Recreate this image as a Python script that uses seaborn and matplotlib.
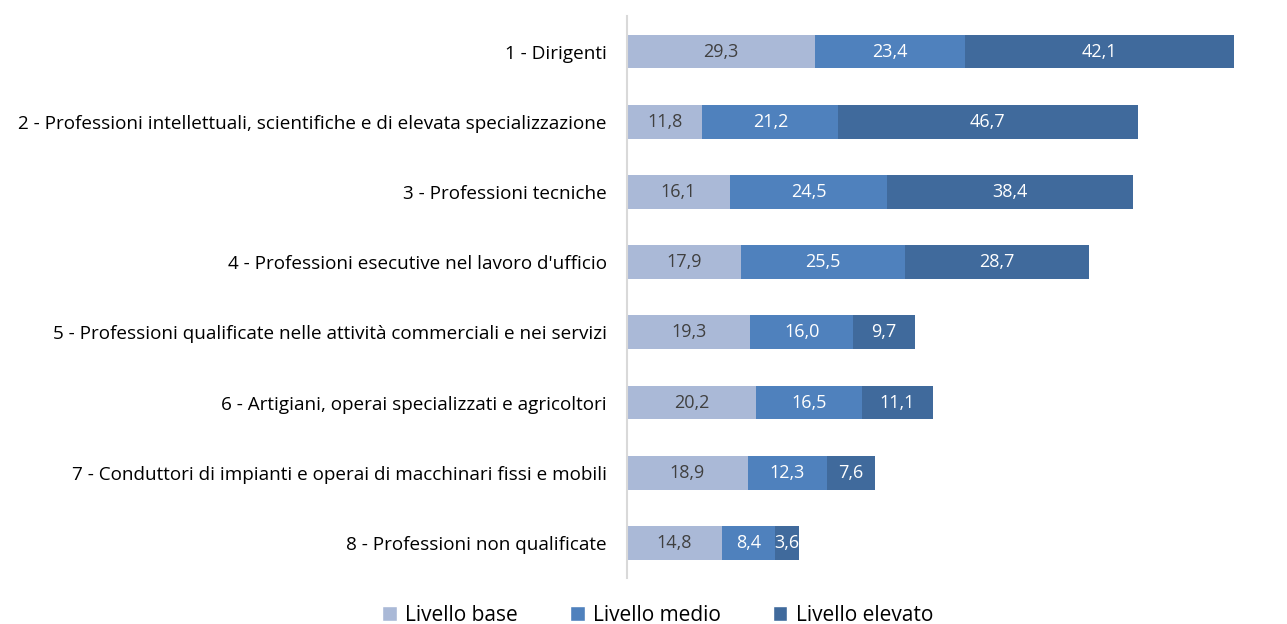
import seaborn as sns
import pandas as pd
import numpy as np
import matplotlib.pyplot as plt
from matplotlib.patches import Patch

# data
categorie = [
    "1 - Dirigenti",
    "2 - Professioni intellettuali, scientifiche e di elevata specializzazione",
    "3 - Professioni tecniche",
    "4 - Professioni esecutive nel lavoro d'ufficio",
    "5 - Professioni qualificate nelle attività commerciali e nei servizi",
    "6 - Artigiani, operai specializzati e agricoltori",
    "7 - Conduttori di impianti e operai di macchinari fissi e mobili",
    "8 - Professioni non qualificate",
]
base = [29.3, 11.8, 16.1, 17.9, 19.3, 20.2, 18.9, 14.8]
medio = [23.4, 21.2, 24.5, 25.5, 16.0, 16.5, 12.3, 8.4]
elevato = [42.1, 46.7, 38.4, 28.7, 9.7, 11.1, 7.6, 3.6]

serie = ["Livello base", "Livello medio", "Livello elevato"]
colori = ["#AAB9D7", "#4F81BD", "#406A9C"]
col_testo = ["#404040", "white", "white"]

df = pd.DataFrame({"cat": categorie, "base": base, "medio": medio, "elevato": elevato})
df["c1"] = df["base"]
df["c2"] = df["base"] + df["medio"]
df["c3"] = df["c2"] + df["elevato"]

sns.set_style("white")
plt.rcParams["font.family"] = ["Open Sans", "DejaVu Sans"]

fig = plt.figure(figsize=(12.87, 6.24), dpi=100)
ax = fig.add_axes([0.487, 0.0737, 0.498, 0.9])

# stacked bars: draw cumulative totals, biggest first
for col, c in zip(["c3", "c2", "c1"], colori[::-1]):
    sns.barplot(data=df, x=col, y="cat", color=c, width=0.48, orient="h",
                saturation=1, ax=ax, linewidth=0)

# value labels
for i, row in df.iterrows():
    starts = [0, row["c1"], row["c2"]]
    for v, s, tc in zip([row["base"], row["medio"], row["elevato"]], starts, col_testo):
        ax.text(s + v / 2, i, f"{v:.1f}".replace(".", ","), ha="center", va="center",
                color=tc, fontsize=13)

ax.set_xlim(0, 100)
ax.set_ylim(7.5, -0.5)
ax.set_xlabel("")
ax.set_ylabel("")
ax.set_xticks([])
ax.tick_params(axis="y", length=0, pad=14.5, labelsize=13.6, labelcolor="black")
for sp in ["top", "right", "bottom"]:
    ax.spines[sp].set_visible(False)
ax.spines["left"].set_color("#D9D9D9")
ax.spines["left"].set_linewidth(1.5)

handles = [Patch(facecolor=c, label=s) for c, s in zip(colori, serie)]
fig.legend(handles=handles, loc="center", bbox_to_anchor=(0.511, 0.014), ncol=3,
           frameon=False, fontsize=15, handlelength=0.7, handleheight=0.7,
           handletextpad=0.4, columnspacing=2.5, labelcolor="black")

plt.savefig("out.png")
